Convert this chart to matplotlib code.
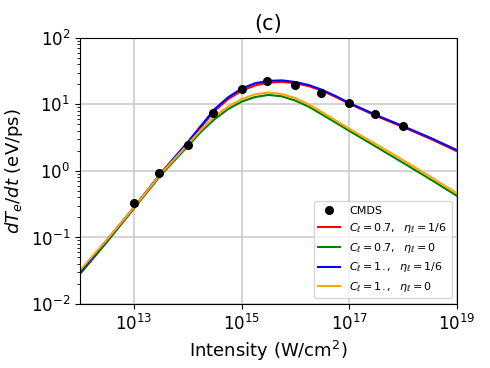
import numpy as np
import matplotlib
matplotlib.use("Agg")
import matplotlib.pyplot as plt

# CMDS data points
cmds_I = [1e13, 3e13, 1e14, 3e14, 1e15, 3e15, 1e16, 3e16, 1e17, 3e17, 1e18]
cmds_rate = [0.33, 0.93, 2.45, 7.4, 17.0, 22.6, 19.6, 14.9, 10.5, 7.2, 4.75]

# model curves, log10 of intensity
log_I = [12.0, 12.5, 13.0, 13.5, 14.0, 14.25, 14.5, 14.75, 15.0, 15.25, 15.5,
         15.75, 16.0, 16.25, 16.5, 16.75, 17.0, 17.5, 18.0, 18.5, 19.0]
red_07_16 = [0.030, 0.090, 0.28, 0.90, 2.65, 4.6, 8.0, 12.0, 16.0, 19.3, 21.3,
             21.8, 20.8, 18.8, 16.0, 12.9, 10.2, 6.7, 4.55, 3.05, 1.97]
green_07_0 = [0.028, 0.085, 0.27, 0.86, 2.35, 3.9, 6.0, 8.5, 11.0, 12.9, 13.9,
              13.2, 11.4, 9.2, 7.0, 5.3, 4.0, 2.3, 1.32, 0.75, 0.42]
blue_1_16 = [0.030, 0.091, 0.28, 0.92, 2.7, 4.8, 8.5, 12.8, 17.3, 20.8, 22.6,
             23.0, 21.7, 19.5, 16.5, 13.3, 10.5, 6.9, 4.7, 3.15, 2.05]
orange_1_0 = [0.032, 0.092, 0.28, 0.90, 2.5, 4.2, 6.6, 9.3, 12.0, 14.2, 15.1,
              14.3, 12.4, 10.0, 7.6, 5.7, 4.3, 2.5, 1.45, 0.82, 0.46]

I = [10 ** v for v in log_I]

fig = plt.figure(figsize=(4.9, 3.68), dpi=100)
ax = fig.add_axes([0.163, 0.174, 0.770, 0.723])

ax.plot(cmds_I, cmds_rate, 'o', color='black', markersize=5.5, label='CMDS', zorder=5)
ax.plot(I, red_07_16, color='red', lw=1.5, label=r'$C_\ell=0.7,\ \ \eta_\ell=1/6$')
ax.plot(I, green_07_0, color='green', lw=1.5, label=r'$C_\ell=0.7,\ \ \eta_\ell=0$')
ax.plot(I, blue_1_16, color='blue', lw=1.5, label=r'$C_\ell=1.,\ \ \eta_\ell=1/6$')
ax.plot(I, orange_1_0, color='orange', lw=1.5, label=r'$C_\ell=1.,\ \ \eta_\ell=0$')

ax.set_xscale('log')
ax.set_yscale('log')
ax.set_xlim(1e12, 1e19)
ax.set_ylim(1e-2, 1e2)
ax.set_xticks([1e13, 1e15, 1e17, 1e19])
ax.grid(True, which='major', color='#cccccc', lw=1.2)
ax.tick_params(labelsize=12)

ax.set_title('(c)', fontsize=15)
ax.set_xlabel(r'Intensity (W/cm$^2$)', fontsize=13)
ax.set_ylabel(r'$dT_e/dt$ (eV/ps)', fontsize=13)
ax.legend(loc='lower right', fontsize=8)

plt.savefig("out.png")
